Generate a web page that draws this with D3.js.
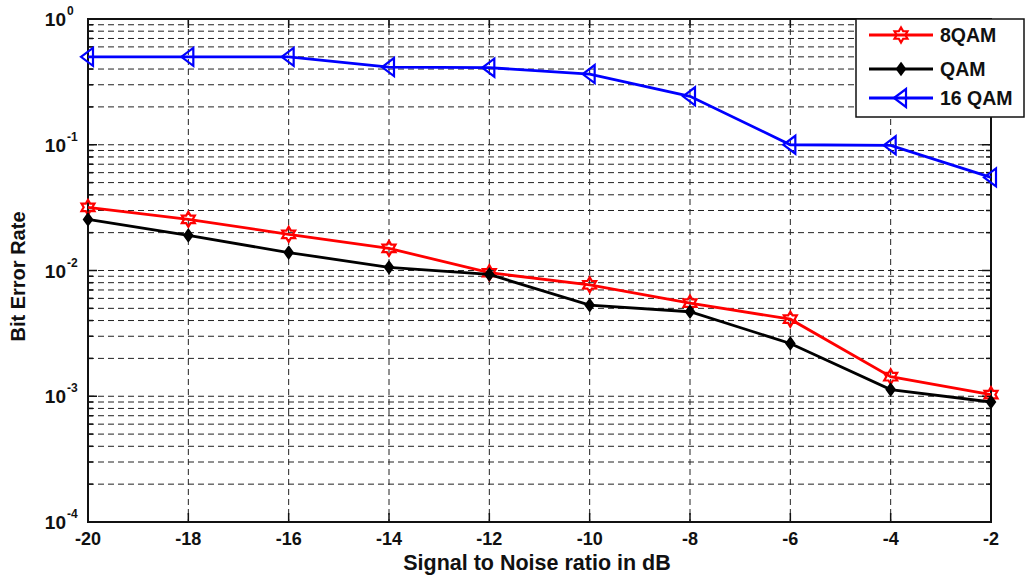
<!DOCTYPE html>
<html>
<head>
<meta charset="utf-8">
<script src="https://cdn.jsdelivr.net/npm/d3@7"></script>
<style>
  body { margin: 0; background: #fff; }
  svg { font-family: "Liberation Sans", Arial, sans-serif; font-weight: bold; }
  .grid line { stroke: #222; stroke-width: 1; stroke-dasharray: 6,4; }
  .tick-label { font-size: 18px; fill: #111; }
</style>
</head>
<body>
<svg width="1026" height="575"></svg>
<script>
// data
var snr = [-20, -18, -16, -14, -12, -10, -8, -6, -4, -2]
var ber8qam = [0.0318, 0.0255, 0.0194, 0.0150, 0.0096, 0.0077, 0.0055, 0.0041, 0.00143, 0.00103]
var berQam = [0.0255, 0.0190, 0.0139, 0.0106, 0.0093, 0.0053, 0.0047, 0.00263, 0.00113, 0.00090]
var ber16qam = [0.50, 0.50, 0.50, 0.415, 0.41, 0.365, 0.243, 0.100, 0.099, 0.055]
var xTicks = [-20, -18, -16, -14, -12, -10, -8, -6, -4, -2]
var yExponents = [-4, -3, -2, -1, 0]
var seriesNames = ['8QAM', 'QAM', '16 QAM']

var svg = d3.select('svg')
var plotL = 88, plotR = 991, plotT = 19, plotB = 522

var x = d3.scaleLinear().domain([-20, -2]).range([plotL, plotR])
var y = d3.scaleLog().domain([1e-4, 1]).range([plotB, plotT])

// minor + major y values for grid
var yGrid = []
yExponents.forEach(e => {
  if (e == 0) { yGrid.push(1); return }
  for (let k = 1; k < 10; k++) yGrid.push(k * Math.pow(10, e))
})

var grid = svg.append('g').attr('class', 'grid')
grid.selectAll('line.h')
  .data(yGrid.filter(v => v > 1e-4 && v < 1))
  .enter().append('line')
  .attr('x1', plotL).attr('x2', plotR)
  .attr('y1', d => y(d)).attr('y2', d => y(d))
grid.selectAll('line.v')
  .data(xTicks.slice(1, -1))
  .enter().append('line')
  .attr('x1', d => x(d)).attr('x2', d => x(d))
  .attr('y1', plotT).attr('y2', plotB)

// axis ticks (inward, both sides)
var ticks = svg.append('g').attr('stroke', '#111').attr('stroke-width', 1.5)
yGrid.forEach(v => {
  var major = Math.abs(Math.log10(v) - Math.round(Math.log10(v))) < 1e-9
  var len = major ? 9 : 5
  ticks.append('line').attr('x1', plotL).attr('x2', plotL + len).attr('y1', y(v)).attr('y2', y(v))
  ticks.append('line').attr('x1', plotR).attr('x2', plotR - len).attr('y1', y(v)).attr('y2', y(v))
})
xTicks.forEach(v => {
  ticks.append('line').attr('x1', x(v)).attr('x2', x(v)).attr('y1', plotB).attr('y2', plotB - 9)
  ticks.append('line').attr('x1', x(v)).attr('x2', x(v)).attr('y1', plotT).attr('y2', plotT + 9)
})

// frame
svg.append('rect')
  .attr('x', plotL).attr('y', plotT)
  .attr('width', plotR - plotL).attr('height', plotB - plotT)
  .attr('fill', 'none').attr('stroke', '#111').attr('stroke-width', 2)

// tick labels
svg.selectAll('text.xt')
  .data(xTicks)
  .enter().append('text')
  .attr('class', 'tick-label')
  .attr('x', d => x(d))
  .attr('y', plotB + 23)
  .attr('text-anchor', 'middle')
  .text(d => d)

svg.selectAll('text.yt')
  .data(yExponents)
  .enter().append('text')
  .attr('class', 'tick-label')
  .attr('x', 66)
  .attr('y', d => y(Math.pow(10, d)) + 7)
  .attr('text-anchor', 'end')
  .style('font-size', '19px')
  .text('10')
svg.selectAll('text.ye')
  .data(yExponents)
  .enter().append('text')
  .attr('x', 67)
  .attr('y', d => y(Math.pow(10, d)) - 4)
  .style('font-size', '12px')
  .attr('fill', '#111')
  .text(d => d)

// axis labels
svg.append('text')
  .attr('x', 537).attr('y', 570)
  .attr('text-anchor', 'middle')
  .style('font-size', '21.5px')
  .attr('fill', '#111')
  .text('Signal to Noise ratio in dB')
svg.append('text')
  .attr('transform', 'translate(25,' + ((plotT + plotB) / 2 + 6) + ') rotate(-90)')
  .attr('text-anchor', 'middle')
  .style('font-size', '20px')
  .attr('fill', '#111')
  .text('Bit Error Rate')

// marker shapes
var hexagram = (r) => {
  var p = []
  for (let i = 0; i < 12; i++) {
    var a = Math.PI / 2 + i * Math.PI / 6
    var rr = i % 2 == 0 ? r : r * 0.58
    p.push([rr * Math.cos(a), -rr * Math.sin(a)])
  }
  return 'M' + p.map(q => q.join(',')).join('L') + 'Z'
}
var triLeft = 'M-7,0L5,-9L5,9Z'
var dot = 'M0,-5.5L4,0L0,5.5L-4,0Z'

var series = [
  { name: seriesNames[0], values: ber8qam, color: '#ff0000', marker: hexagram(7.5), fill: 'none' },
  { name: seriesNames[1], values: berQam, color: '#000000', marker: dot, fill: '#000' },
  { name: seriesNames[2], values: ber16qam, color: '#0000ff', marker: triLeft, fill: 'none' }
]

var line = d3.line().x((d, i) => x(snr[i])).y(d => y(d))

series.forEach(s => {
  var g = svg.append('g')
  g.append('path')
    .datum(s.values)
    .attr('d', line)
    .attr('fill', 'none')
    .attr('stroke', s.color)
    .attr('stroke-width', 2.8)
  g.selectAll('path.m')
    .data(s.values)
    .enter().append('path')
    .attr('transform', (d, i) => `translate(${x(snr[i])},${y(d)})`)
    .attr('d', s.marker)
    .attr('fill', s.fill)
    .attr('stroke', s.color)
    .attr('stroke-width', 2.2)
})

// legend
var legend = svg.append('g')
legend.append('rect')
  .attr('x', 856).attr('y', 19)
  .attr('width', 168).attr('height', 98)
  .attr('fill', '#fff').attr('stroke', '#111').attr('stroke-width', 1.5)
var rows = [35, 69, 98]
series.forEach((s, i) => {
  legend.append('line')
    .attr('x1', 869).attr('x2', 933)
    .attr('y1', rows[i]).attr('y2', rows[i])
    .attr('stroke', s.color).attr('stroke-width', 2.8)
  legend.append('path')
    .attr('transform', `translate(901,${rows[i]})`)
    .attr('d', s.marker)
    .attr('fill', s.fill)
    .attr('stroke', s.color)
    .attr('stroke-width', 2.2)
  legend.append('text')
    .attr('x', 940).attr('y', rows[i] + 7)
    .style('font-size', '19.5px')
    .attr('fill', '#111')
    .text(s.name)
})
</script>
</body>
</html>
